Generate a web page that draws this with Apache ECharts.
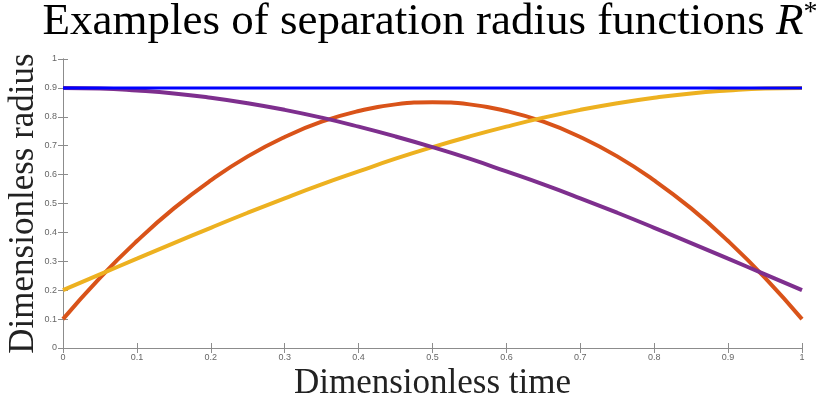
<!DOCTYPE html>
<html>
<head>
<meta charset="utf-8">
<script src="https://cdn.jsdelivr.net/npm/echarts@6/dist/echarts.min.js"></script>
<style>
  html, body { margin: 0; padding: 0; background: #fff; }
  #chart { width: 820px; height: 400px; }
</style>
</head>
<body>
<div id="chart"></div>
<script>
// Dimensionless time samples
const timeValues = [0, 0.05, 0.1, 0.15, 0.2, 0.25, 0.3, 0.35, 0.4, 0.45, 0.5,
                    0.55, 0.6, 0.65, 0.7, 0.75, 0.8, 0.85, 0.9, 0.95, 1];

// Separation radius functions R*
const constantRadius = [0.9, 0.9, 0.9, 0.9, 0.9, 0.9, 0.9, 0.9, 0.9, 0.9, 0.9,
                        0.9, 0.9, 0.9, 0.9, 0.9, 0.9, 0.9, 0.9, 0.9, 0.9];
const archRadius = [0.1, 0.243, 0.37, 0.483, 0.58, 0.663, 0.73, 0.783, 0.82, 0.843, 0.85,
                    0.843, 0.82, 0.783, 0.73, 0.663, 0.58, 0.483, 0.37, 0.243, 0.1];
const risingRadius = [0.2, 0.255, 0.309, 0.363, 0.416, 0.468, 0.518, 0.566, 0.611, 0.655, 0.695,
                      0.732, 0.766, 0.797, 0.824, 0.847, 0.866, 0.881, 0.891, 0.898, 0.9];
const fallingRadius = [0.9, 0.898, 0.891, 0.881, 0.866, 0.847, 0.824, 0.797, 0.766, 0.732, 0.695,
                       0.655, 0.611, 0.566, 0.518, 0.468, 0.416, 0.363, 0.309, 0.255, 0.2];

// Tick labels
const xTickLabels = ['0', '0.1', '0.2', '0.3', '0.4', '0.5', '0.6', '0.7', '0.8', '0.9', '1'];
const yTickLabels = ['0', '0.1', '0.2', '0.3', '0.4', '0.5', '0.6', '0.7', '0.8', '0.9', '1'];

const pairs = (ys) => timeValues.map((t, i) => [t, ys[i]]);
const tickText = (labels) => (v) => labels[Math.round(v * 10)] ?? '';

const axisGray = '#8c8c8c';
const labelGray = '#666';
const serif = '"Liberation Serif", "DejaVu Serif", serif';

const chart = echarts.init(document.getElementById('chart'), null, { renderer: 'canvas' });

const baseX = {
  type: 'value', min: 0, max: 1, interval: 0.1,
  axisLine: { show: true, lineStyle: { color: axisGray, width: 1 } },
  axisTick: { show: true, inside: true, length: 5, lineStyle: { color: axisGray } },
  splitLine: { show: false }
};
const baseY = {
  type: 'value', min: 0, max: 1, interval: 0.1,
  axisLine: { show: true, lineStyle: { color: axisGray, width: 1 } },
  axisTick: { show: true, inside: true, length: 5, lineStyle: { color: axisGray } },
  splitLine: { show: false }
};

chart.setOption({
  animation: false,
  backgroundColor: '#fff',
  title: {
    text: 'Examples of separation radius functions {r|R}{s|*}',
    left: 425, top: -6, textAlign: 'center',
    textStyle: {
      fontFamily: serif, fontSize: 45, fontWeight: 'normal', color: '#000',
      rich: {
        r: { fontFamily: serif, fontSize: 45, fontStyle: 'italic', color: '#000' },
        s: { fontFamily: serif, fontSize: 28, color: '#000', padding: [0, 0, 18, 0] }
      }
    }
  },
  grid: { left: 63, right: 18, top: 59, bottom: 52, containLabel: false, outerBoundsMode: 'none' },
  xAxis: [
    Object.assign({}, baseX, {
      position: 'bottom',
      name: 'Dimensionless time', nameLocation: 'middle', nameGap: 18, nameMoveOverlap: false,
      nameTextStyle: { fontFamily: serif, fontSize: 35, color: '#222' },
      axisLabel: { show: true, fontSize: 9, color: labelGray, margin: 5,
                   fontFamily: 'Liberation Sans, Arial, sans-serif',
                   formatter: tickText(xTickLabels) }
    }),
    Object.assign({}, baseX, { position: 'top', axisLabel: { show: false } })
  ],
  yAxis: [
    Object.assign({}, baseY, {
      position: 'left',
      name: 'Dimensionless radius', nameLocation: 'middle', nameGap: 22, nameMoveOverlap: false,
      nameTextStyle: { fontFamily: serif, fontSize: 35, color: '#222' },
      axisLabel: { show: true, fontSize: 9, color: labelGray, margin: 6,
                   fontFamily: 'Liberation Sans, Arial, sans-serif',
                   formatter: tickText(yTickLabels) }
    }),
    Object.assign({}, baseY, { position: 'right', axisLabel: { show: false } })
  ],
  series: [
    { type: 'line', data: pairs(archRadius), smooth: true, showSymbol: false,
      lineStyle: { color: '#D95319', width: 4 }, z: 2 },
    { type: 'line', data: pairs(risingRadius), smooth: true, showSymbol: false,
      lineStyle: { color: '#EDB120', width: 4 }, z: 3 },
    { type: 'line', data: pairs(fallingRadius), smooth: true, showSymbol: false,
      lineStyle: { color: '#7E2F8E', width: 4 }, z: 4 },
    { type: 'line', data: pairs(constantRadius), smooth: false, showSymbol: false,
      lineStyle: { color: '#0000FF', width: 3 }, z: 5 }
  ]
});
</script>
</body>
</html>
